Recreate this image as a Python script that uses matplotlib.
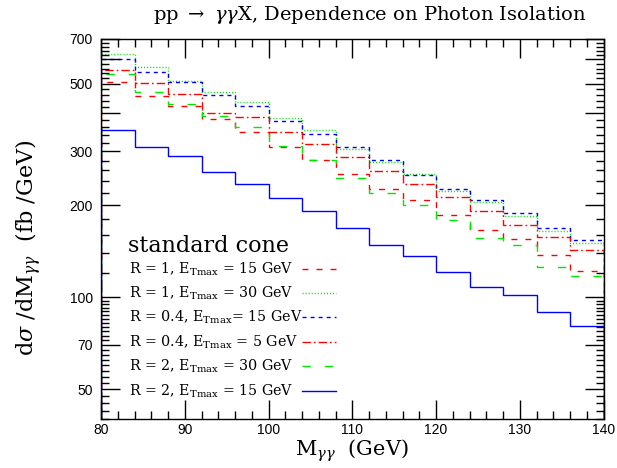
import numpy as np
from matplotlib import pyplot as plt
from matplotlib.ticker import FixedLocator, NullFormatter, FixedFormatter

plt.rcParams['font.family'] = ['DejaVu Serif']
plt.rcParams['mathtext.fontset'] = 'dejavuserif'

# bin edges in M_gamma-gamma (GeV)
edges = np.arange(80, 141, 4)

# dsigma/dM (fb/GeV)
r1_e15 = [506, 456, 422, 383, 347, 310, 281, 254, 226, 208, 186, 166, 155, 138, 122]
r1_e30 = [623, 566, 512, 469, 437, 386, 352, 306, 277, 253, 222, 205, 185, 165, 151]
r04_e15 = [601, 547, 506, 460, 421, 378, 341, 310, 281, 251, 227, 208, 189, 169, 154]
r04_e5 = [555, 504, 462, 400, 389, 347, 317, 288, 259, 234, 213, 192, 173, 157, 143]
r2_e30 = [537, 471, 430, 393, 360, 312, 282, 246, 219, 201, 179, 156, 148, 126, 117]
r2_e15 = [354, 311, 290, 258, 235, 211, 191, 169, 148, 137, 121, 108, 102, 89.4, 80.3]

labels = [r'R = 1, E$_{\mathrm{Tmax}}$ = 15 GeV',
          r'R = 1, E$_{\mathrm{Tmax}}$ = 30 GeV',
          r'R = 0.4, E$_{\mathrm{Tmax}}$= 15 GeV',
          r'R = 0.4, E$_{\mathrm{Tmax}}$ = 5 GeV',
          r'R = 2, E$_{\mathrm{Tmax}}$ = 30 GeV',
          r'R = 2, E$_{\mathrm{Tmax}}$ = 15 GeV']

fig = plt.figure(figsize=(6.17, 4.68), dpi=100)
ax = fig.add_axes([0.1637, 0.1047, 0.8145, 0.812])

series = [r1_e15, r1_e30, r04_e15, r04_e5, r2_e30, r2_e15]
colors = ['#ff0000', '#00e600', '#0000ff', '#ff0000', '#00e600', '#0000ff']
styles = [(0, (4.3, 5.8)), (0, (0.8, 1.4)), (0, (2.9, 2.9)), (0, (6, 2.2, 1.2, 2.2)), (0, (6, 10)), '-']

for vals, c, ls in zip(series, colors, styles):
    ax.stairs(vals, edges, color=c, linestyle=ls, linewidth=1.0)

ax.set_yscale('log')
ax.set_xlim(80, 140)
ax.set_ylim(40, 700)

# y ticks
ymaj = [50, 70, 100, 200, 300, 400, 500, 600, 700]
ax.yaxis.set_major_locator(FixedLocator(ymaj))
ax.yaxis.set_major_formatter(FixedFormatter(['50', '70', '100', '200', '300', '', '500', '', '700']))
ymin = list(np.arange(40, 100, 2.5)) + list(np.arange(120, 700, 20))
ax.yaxis.set_minor_locator(FixedLocator(ymin))
ax.yaxis.set_minor_formatter(NullFormatter())

ax.xaxis.set_major_locator(FixedLocator(np.arange(80, 141, 10)))
ax.xaxis.set_minor_locator(FixedLocator(np.arange(80, 141, 2)))

ax.tick_params(which='both', direction='in', top=True, right=True, width=1.0)
ax.tick_params(which='major', length=14, labelsize=10)
ax.tick_params(which='minor', length=6)
ax.tick_params(axis='x', pad=3)
ax.tick_params(axis='y', pad=6)
for t in ax.get_xticklabels() + ax.get_yticklabels():
    t.set_family(['Liberation Sans', 'DejaVu Sans'])
for s in ax.spines.values():
    s.set_linewidth(1.0)

fig.text(370 / 617, 1 - 15 / 468, r'pp $\rightarrow$ $\gamma\gamma$X, Dependence on Photon Isolation',
         fontsize=14, ha='center', va='center')
ax.set_xlabel(r'M$_{\gamma\gamma}$  (GeV)', fontsize=15, labelpad=0)
ax.set_ylabel(r'd$\sigma$ /dM$_{\gamma\gamma}$  (fb /GeV)', fontsize=16)
ax.yaxis.set_label_coords(-0.113, 0.45)

# legend drawn by hand: text left, line sample right
ax.text(0.054, 0.455, 'standard cone', transform=ax.transAxes, fontsize=16, va='center', ha='left')
rows = [0.395, 0.332, 0.268, 0.203, 0.139, 0.074]
for yy, lab, c, ls in zip(rows, labels, colors, styles):
    ax.text(0.056, yy, lab, transform=ax.transAxes, fontsize=10.3, va='center', ha='left')
    ax.plot([0.400, 0.468], [yy, yy], transform=ax.transAxes, color=c, linestyle=ls, linewidth=1.0)

fig.savefig('out.png', dpi=100)
